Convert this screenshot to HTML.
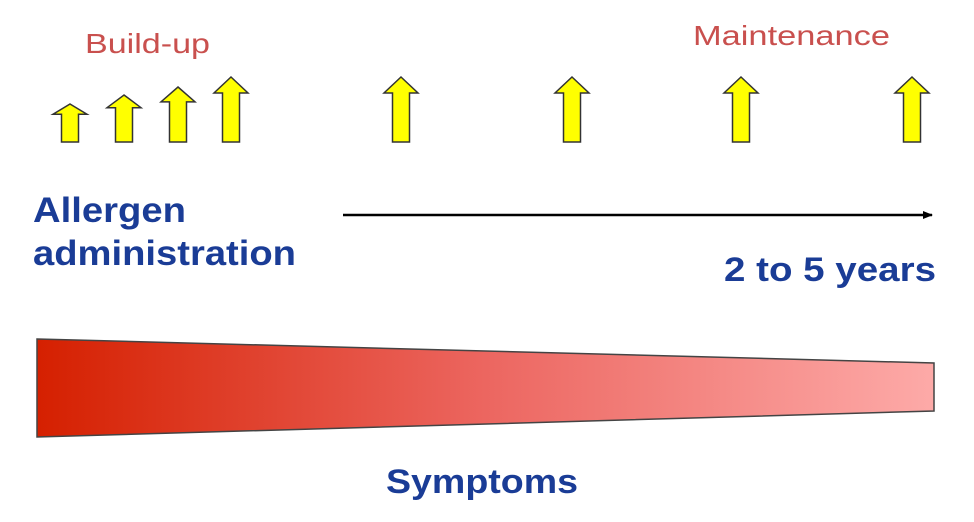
<!DOCTYPE html>
<html><head><meta charset="utf-8"><style>
body{margin:0;background:#fff;}
svg{display:block;font-family:"Liberation Sans",sans-serif;}
</style></head><body>
<svg width="974" height="522" viewBox="0 0 974 522">
<defs>
<linearGradient id="g" x1="0" x2="1" y1="0" y2="0">
<stop offset="0" stop-color="#d52000"/><stop offset="0.5" stop-color="#ec6660"/><stop offset="1" stop-color="#fdaaa8"/>
</linearGradient>
<marker id="ah" markerWidth="10" markerHeight="8" refX="9" refY="4" orient="auto" markerUnits="userSpaceOnUse">
<path d="M0,0 L10,4 L0,8 z" fill="#000"/></marker>
</defs>
<text x="85" y="53" font-size="28" fill="#c9504e" textLength="125" lengthAdjust="spacingAndGlyphs">Build-up</text>
<text x="693" y="45" font-size="28" fill="#c9504e" textLength="197" lengthAdjust="spacingAndGlyphs">Maintenance</text>
<g id="arrows"></g>
<text x="33" y="222" font-size="35" font-weight="bold" fill="#1a3c96" textLength="153" lengthAdjust="spacingAndGlyphs">Allergen</text>
<text x="33" y="265" font-size="35" font-weight="bold" fill="#1a3c96" textLength="263" lengthAdjust="spacingAndGlyphs">administration</text>
<line x1="343" y1="215" x2="932" y2="215" stroke="#000" stroke-width="2.5" marker-end="url(#ah)"/>
<text x="724" y="281" font-size="34" font-weight="bold" fill="#1a3c96" textLength="212" lengthAdjust="spacingAndGlyphs">2 to 5 years</text>
<polygon points="37,339 934,363 934,411 37,437" fill="url(#g)" stroke="#444" stroke-width="1.5"/>
<text x="386" y="493" font-size="34" font-weight="bold" fill="#1a3c96" textLength="192" lengthAdjust="spacingAndGlyphs">Symptoms</text>
</svg>
<script>
const arrowX=[70,124,178,231,401,572,741,912];
const arrowHeight=[38,47,55,65,65,65,65,65];
const g=document.getElementById('arrows');
const base=142;
arrowX.forEach((x,i)=>{
  const h=arrowHeight[i], hw=17, sw=8.5, hh=Math.min(16,h*0.27);
  const t=base-h;
  const p=document.createElementNS('http://www.w3.org/2000/svg','polygon');
  p.setAttribute('points',[[x,t],[x+hw,t+hh],[x+sw,t+hh],[x+sw,base],[x-sw,base],[x-sw,t+hh],[x-hw,t+hh]].map(a=>a.join(',')).join(' '));
  p.setAttribute('fill','#ffff00');
  p.setAttribute('stroke','#333');
  p.setAttribute('stroke-width','1.5');
  
  
  g.appendChild(p);
});
</script>
</body></html>
